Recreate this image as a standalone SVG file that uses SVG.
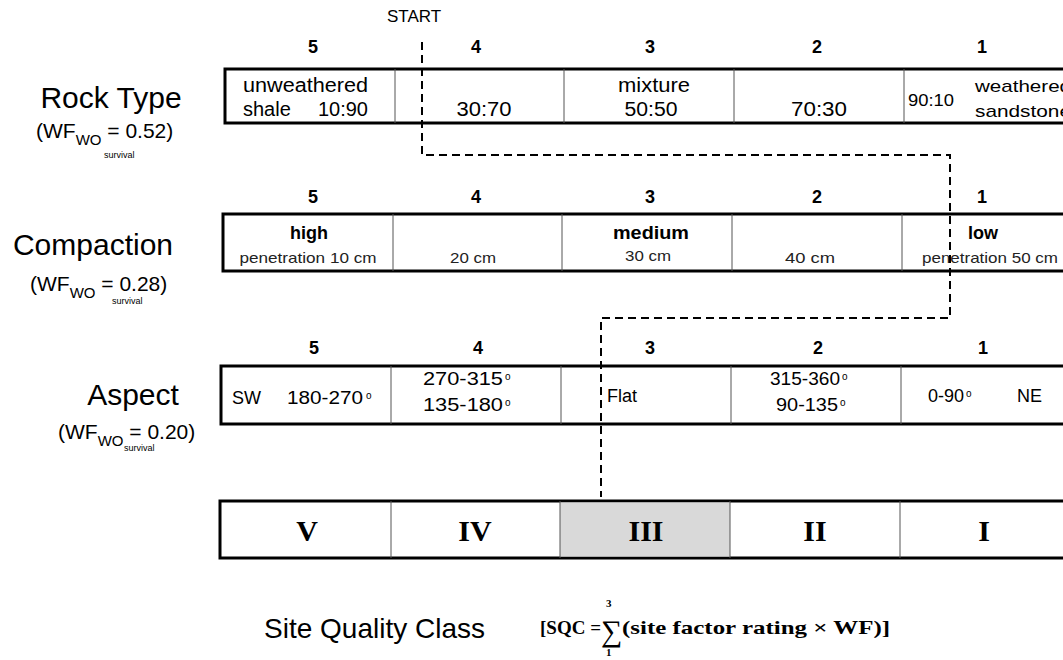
<svg xmlns="http://www.w3.org/2000/svg" width="1063" height="660" viewBox="0 0 1063 660">
<style>
text{font-family:"Liberation Sans",Arial,sans-serif;fill:#000}
.big{font-size:30px;text-anchor:middle}
.wf{font-size:21px}
.tiny{font-size:9px}
.hdr{font-size:18px;font-weight:bold;text-anchor:middle}
.cell{font-size:20px;text-anchor:middle}
.bold{font-size:18px;font-weight:bold;text-anchor:middle}
.sm{font-size:15px;text-anchor:middle;fill:#222}
.box{fill:#fff;stroke:#000;stroke-width:3}
.div{stroke:#555;stroke-width:1}
.roman{font-family:"Liberation Serif","Times New Roman",serif;font-weight:bold;font-size:30px;text-anchor:middle}
.dash{fill:none;stroke:#000;stroke-width:2;stroke-dasharray:8 5}
.sup{font-size:10px}
.f{font-family:"Liberation Serif","Times New Roman",serif;font-weight:bold}
</style>
<rect width="1063" height="660" fill="#fff"/>

<g id="rock-type">
<text class="big" x="111" y="108">Rock Type</text>
<text class="wf" x="36" y="138">(WF<tspan font-size="15" dy="7">WO</tspan><tspan dy="-7"> = 0.52)</tspan></text>
<text class="tiny" x="104" y="158">survival</text>
<text class="hdr" x="313" y="53">5</text>
<text class="hdr" x="476" y="53">4</text>
<text class="hdr" x="650" y="53">3</text>
<text class="hdr" x="817" y="53">2</text>
<text class="hdr" x="982" y="53">1</text>
<rect class="box" x="225" y="69" width="860" height="54"/>
<line class="div" x1="395" y1="69" x2="395" y2="123"/>
<line class="div" x1="564" y1="69" x2="564" y2="123"/>
<line class="div" x1="734" y1="69" x2="734" y2="123"/>
<line class="div" x1="904" y1="69" x2="904" y2="123"/>
<text x="243" y="92" font-size="20" textLength="125" lengthAdjust="spacingAndGlyphs">unweathered</text>
<text x="243" y="116" font-size="20">shale</text>
<text x="368" y="116" font-size="20" text-anchor="end">10:90</text>
<text class="cell" x="484" y="116" textLength="55" lengthAdjust="spacingAndGlyphs">30:70</text>
<text class="cell" x="654" y="92" textLength="72" lengthAdjust="spacingAndGlyphs">mixture</text>
<text class="cell" x="651" y="116" textLength="53" lengthAdjust="spacingAndGlyphs">50:50</text>
<text class="cell" x="819" y="116" textLength="56" lengthAdjust="spacingAndGlyphs">70:30</text>
<text x="908" y="106" font-size="17" fill="#333" textLength="46" lengthAdjust="spacingAndGlyphs">90:10</text>
<text x="975" y="92" font-size="17" fill="#333" textLength="96" lengthAdjust="spacingAndGlyphs">weathered</text>
<text x="975" y="117" font-size="17" fill="#333" textLength="96" lengthAdjust="spacingAndGlyphs">sandstone</text>
</g>

<g id="compaction">
<text class="big" x="93" y="255">Compaction</text>
<text class="wf" x="30" y="291">(WF<tspan font-size="15" dy="7">WO</tspan><tspan dy="-7"> = 0.28)</tspan></text>
<text class="tiny" x="112" y="304">survival</text>
<text class="hdr" x="313" y="203">5</text>
<text class="hdr" x="476" y="203">4</text>
<text class="hdr" x="650" y="203">3</text>
<text class="hdr" x="817" y="203">2</text>
<text class="hdr" x="982" y="203">1</text>
<rect class="box" x="223" y="214" width="860" height="57"/>
<line class="div" x1="393" y1="214" x2="393" y2="271"/>
<line class="div" x1="562" y1="214" x2="562" y2="271"/>
<line class="div" x1="732" y1="214" x2="732" y2="271"/>
<line class="div" x1="902" y1="214" x2="902" y2="271"/>
<text class="bold" x="309" y="239">high</text>
<text class="sm" x="308" y="263" textLength="137" lengthAdjust="spacingAndGlyphs">penetration 10 cm</text>
<text class="sm" x="473" y="263" textLength="46" lengthAdjust="spacingAndGlyphs">20 cm</text>
<text class="bold" x="651" y="239" textLength="76" lengthAdjust="spacingAndGlyphs">medium</text>
<text class="sm" x="648" y="261" textLength="46" lengthAdjust="spacingAndGlyphs">30 cm</text>
<text class="sm" x="810" y="263" textLength="50" lengthAdjust="spacingAndGlyphs">40 cm</text>
<text class="bold" x="983" y="239">low</text>
<text class="sm" x="990" y="263" textLength="136" lengthAdjust="spacingAndGlyphs">penetration 50 cm</text>
</g>

<g id="aspect">
<text class="big" x="133" y="405">Aspect</text>
<text class="wf" x="58" y="439">(WF<tspan font-size="15" dy="7">WO</tspan><tspan dy="-7"> = 0.20)</tspan></text>
<text class="tiny" x="124" y="451">survival</text>
<text class="hdr" x="314" y="354">5</text>
<text class="hdr" x="478" y="354">4</text>
<text class="hdr" x="650" y="354">3</text>
<text class="hdr" x="818" y="354">2</text>
<text class="hdr" x="983" y="354">1</text>
<rect class="box" x="221" y="366" width="860" height="58"/>
<line class="div" x1="391" y1="366" x2="391" y2="424"/>
<line class="div" x1="561" y1="366" x2="561" y2="424"/>
<line class="div" x1="731" y1="366" x2="731" y2="424"/>
<line class="div" x1="901" y1="366" x2="901" y2="424"/>
<text x="232" y="404" font-size="18">SW</text>
<text x="287" y="404" font-size="18" textLength="76" lengthAdjust="spacingAndGlyphs">180-270</text>
<text class="sup" x="366" y="399">o</text>
<text x="423" y="385" font-size="18" textLength="80" lengthAdjust="spacingAndGlyphs">270-315</text>
<text class="sup" x="505" y="380">o</text>
<text x="423" y="411" font-size="18" textLength="80" lengthAdjust="spacingAndGlyphs">135-180</text>
<text class="sup" x="505" y="406">o</text>
<text x="607" y="402" font-size="18">Flat</text>
<text x="770" y="385" font-size="18" textLength="70" lengthAdjust="spacingAndGlyphs">315-360</text>
<text class="sup" x="842" y="380">o</text>
<text x="776" y="411" font-size="18" textLength="62" lengthAdjust="spacingAndGlyphs">90-135</text>
<text class="sup" x="840" y="406">o</text>
<text x="928" y="402" font-size="18">0-90</text>
<text class="sup" x="966" y="397">o</text>
<text x="1017" y="402" font-size="18">NE</text>
</g>

<g id="site-quality-class">
<rect class="box" x="220" y="501" width="860" height="57"/>
<rect x="560" y="502.5" width="170" height="54" fill="#d9d9d9"/>
<line class="div" x1="391" y1="501" x2="391" y2="558"/>
<line class="div" x1="560" y1="501" x2="560" y2="558"/>
<line class="div" x1="730" y1="501" x2="730" y2="558"/>
<line class="div" x1="900" y1="501" x2="900" y2="558"/>
<text class="roman" x="307" y="541">V</text>
<text class="roman" x="475" y="541">IV</text>
<text class="roman" x="646" y="541">III</text>
<text class="roman" x="815" y="541">II</text>
<text class="roman" x="984" y="541">I</text>
</g>

<g id="title">
<text x="264" y="638" font-size="28">Site Quality Class</text>
<text class="f" x="540" y="634" font-size="19">[SQC =</text>
<text x="601" y="641" font-size="30" style="font-family:'Liberation Serif',serif">∑</text>
<text class="f" x="606" y="607" font-size="11">3</text>
<text class="f" x="606" y="656" font-size="11">1</text>
<text class="f" x="622" y="634" font-size="19" textLength="268" lengthAdjust="spacingAndGlyphs">(site factor rating × WF)]</text>
</g>

<g id="connectors">
<text x="387" y="22" font-size="17">START</text>
<path class="dash" d="M422,42 V155 H950 V318 H601 V497"/>
</g>
</svg>
